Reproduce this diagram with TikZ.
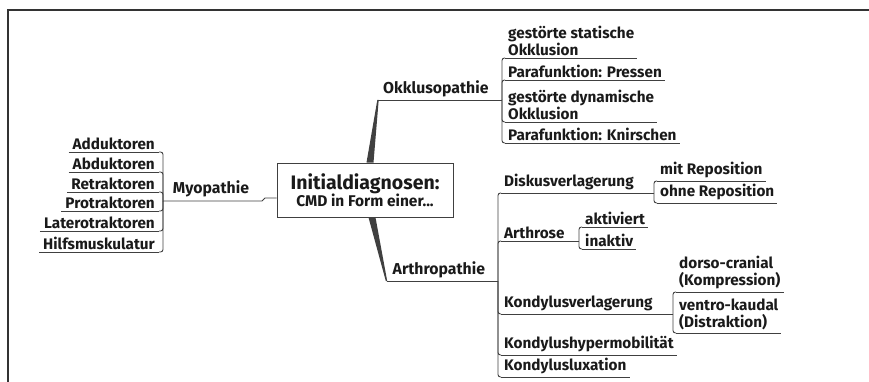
\documentclass[tikz,border=0pt]{standalone}
\usepackage{fontspec}
\setmainfont{Fira Sans}
\definecolor{txt}{HTML}{1A1A1A}
\definecolor{ln}{HTML}{404040}
\begin{document}
\begin{tikzpicture}[x=1pt,y=-1pt,
  lf/.style={font=\bfseries\fontsize{15.3}{17}\selectfont, text=txt, inner xsep=4pt, inner ysep=2.5pt},
  lfr/.style={lf, anchor=south west, align=left},
  lfl/.style={lf, anchor=south east, align=right},
  mb/.style={lf, font=\bfseries\fontsize{15.8}{17}\selectfont},
  ul/.style={draw=ln, line width=0.9pt},
  br/.style={draw=ln, line width=0.9pt, rounded corners=2.5pt},
  frame/.style={draw=black!80, line width=1.1pt}
]
\useasboundingbox (0,0) rectangle (869,382);
\draw[frame] (8,382) -- (8,10) -- (869,10);

% central box
\node[draw=ln, line width=0.9pt, fill=white, minimum width=176pt, minimum height=54pt, align=center, text=txt, inner sep=2pt] (c) at (365,190)
  {{\bfseries\fontsize{19.5}{21}\selectfont Initialdiagnosen:}\\[-1pt]{\bfseries\fontsize{15.5}{17}\selectfont CMD in Form einer...}};

% Okklusopathie
\coordinate (okkA) at (378,100);
\coordinate (okkJ) at (502,100);
\node[mb, anchor=south west, inner xsep=5pt] (okk) at (okkA) {Okklusopathie};
\fill[ln] ([xshift=1.5pt]c.north) -- ([xshift=8.5pt]c.north) -- ([xshift=0.7pt]okkA) -- ([xshift=-0.7pt]okkA) -- cycle;
\draw[ul] (okk.south west) -- (okkJ);
\node[lfr, inner xsep=3pt] (gs) at (505,58) {gestörte statische\\Okklusion};
\node[lfr, inner xsep=3pt] (pp) at (505,80) {Parafunktion: Pressen};
\node[lfr, inner xsep=3pt] (gd) at (505,122) {gestörte dynamische\\Okklusion};
\node[lfr, inner xsep=3pt] (pk) at (505,143) {Parafunktion: Knirschen};
\foreach \n in {gs,pp,gd,pk}{
  \draw[ul] (\n.south west) -- (\n.south east);
  \draw[br] (okkJ) |- (\n.south west);
}

% Arthropathie
\coordinate (artA) at (386.5,281);
\coordinate (artJ) at (498,281);
\node[mb, anchor=south west, inner xsep=6pt] (art) at (artA) {Arthropathie};
\fill[ln] ([xshift=3.5pt]c.south) -- ([xshift=10.5pt]c.south) -- ([xshift=0.7pt]artA) -- ([xshift=-0.7pt]artA) -- cycle;
\draw[ul] (art.south west) -- (artJ);
\node[lfr, inner xsep=3pt] (dv) at (501,193) {Diskusverlagerung};
\node[lfr, inner xsep=3pt] (ar) at (501,241) {Arthrose};
\node[lfr, inner xsep=3pt] (kv) at (501,314) {Kondylusverlagerung};
\node[lfr, inner xsep=3pt] (kh) at (501,355) {Kondylushypermobilität};
\node[lfr, inner xsep=3pt] (kl) at (501,377) {Kondylusluxation};
\foreach \n in {dv,ar,kv,kh,kl}{
  \draw[ul] (\n.south west) -- (\n.south east);
  \draw[br] (artJ) |- (\n.south west);
}

% Diskusverlagerung children
\coordinate (dvJ) at (654,193);
\draw[ul] (dv.south east) -- (dvJ);
\node[lfr, inner xsep=3pt] (mr) at (657,181) {mit Reposition};
\node[lfr, inner xsep=3pt] (or) at (657,203) {ohne Reposition};
\foreach \n in {mr,or}{
  \draw[ul] (\n.south west) -- (\n.south east);
  \draw[br] (dvJ) |- (\n.south west);
}

% Arthrose children
\coordinate (arJ) at (579,241);
\draw[ul] (ar.south east) -- (arJ);
\node[lfr, inner xsep=3pt] (ak) at (582,227) {aktiviert};
\node[lfr, inner xsep=3pt] (ia) at (582,249) {inaktiv};
\foreach \n in {ak,ia}{
  \draw[ul] (\n.south west) -- (\n.south east);
  \draw[br] (arJ) |- (\n.south west);
}

% Kondylusverlagerung children
\coordinate (kvJ) at (673,314);
\draw[ul] (kv.south east) -- (kvJ);
\node[lfr, inner xsep=3pt] (dc) at (676,292) {dorso-cranial\\(Kompression)};
\node[lfr, inner xsep=3pt] (vk) at (676,333) {ventro-kaudal\\(Distraktion)};
\foreach \n in {dc,vk}{
  \draw[ul] (\n.south west) -- (\n.south east);
  \draw[br] (kvJ) |- (\n.south west);
}

% Myopathie
\coordinate (myoJ) at (163,201);
\node[mb, anchor=south] (myo) at (211,200) {Myopathie};
\draw[ul] (c.west |- 0,198) -- (265,198) -- (262,201) -- (myoJ);
\node[lfl] (add) at (159,152) {Adduktoren};
\node[lfl] (abd) at (159,172) {Abduktoren};
\node[lfl] (ret) at (159,192) {Retraktoren};
\node[lfl] (pro) at (159,211) {Protraktoren};
\node[lfl] (lat) at (159,231) {Laterotraktoren};
\node[lfl] (hil) at (159,252) {Hilfsmuskulatur};
\foreach \n in {add,abd,ret,pro,lat,hil}{
  \draw[ul] (\n.south west) -- (\n.south east);
  \draw[br] (myoJ) |- (\n.south east);
}
\end{tikzpicture}
\end{document}
